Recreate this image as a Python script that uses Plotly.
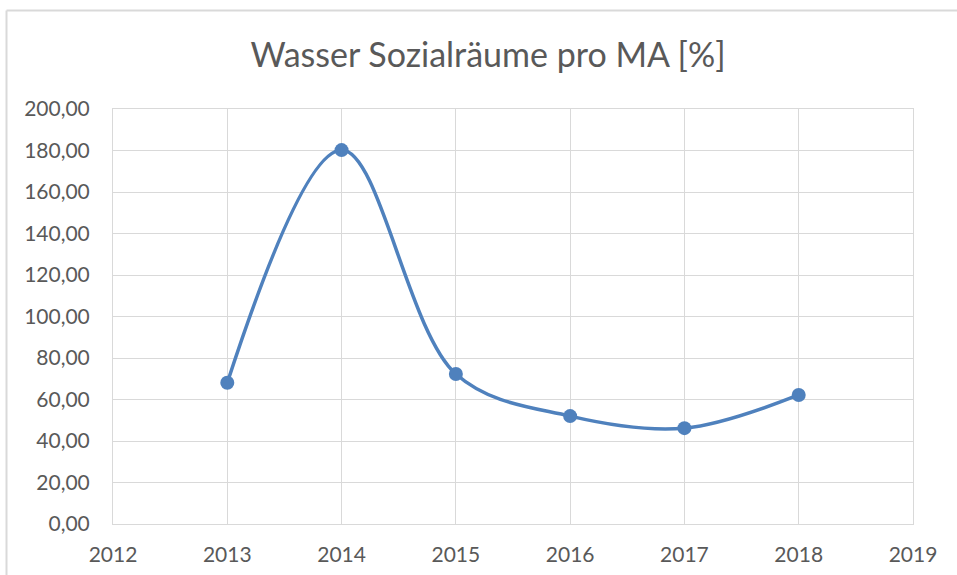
import plotly.graph_objects as go

years = [2013, 2014, 2015, 2016, 2017, 2018]
values = [68.1, 180.2, 72.3, 52.0, 46.2, 62.2]
title_text = "Wasser Sozialräume pro MA [%]"

text_color = "#595959"
grid_color = "#d9d9d9"
line_color = "#4f81bd"
font_family = "Lato, 'Open Sans', sans-serif"

fig = go.Figure()
fig.add_trace(go.Scatter(
    x=years, y=values, mode="lines+markers",
    line=dict(color=line_color, width=3.5, shape="spline", smoothing=1.0),
    marker=dict(color=line_color, size=14),
    showlegend=False, hoverinfo="skip",
))

W, H = 957, 575
L, T = 113, 109
pw, ph = 800, 415
R, B = W - L - pw, H - T - ph
bx = (6.5 - L) / pw
by = 1 + (T - 10.5) / ph

fig.update_layout(
    width=W, height=H,
    margin=dict(l=L, r=R, t=T, b=B),
    paper_bgcolor="white", plot_bgcolor="white",
    separators=",.",
    font=dict(family=font_family, color=text_color, size=21),
    title=dict(text=title_text, x=488 / W, xanchor="center",
               y=1 - 55 / H, yanchor="middle",
               font=dict(size=34, color=text_color, family=font_family)),
    xaxis=dict(range=[2012, 2019], dtick=1, tickformat="d",
               showgrid=True, gridcolor=grid_color, gridwidth=1,
               showline=True, linecolor=grid_color, linewidth=1, mirror=True,
               zeroline=False, ticks="", ticklabelstandoff=12, automargin=False,
               tickfont=dict(size=21, color=text_color)),
    yaxis=dict(range=[0, 200], dtick=20, tickformat=".2f",
               showgrid=True, gridcolor=grid_color, gridwidth=1,
               showline=True, linecolor=grid_color, linewidth=1, mirror=True,
               zeroline=False, ticks="", ticklabelstandoff=18, automargin=False,
               tickfont=dict(size=21, color=text_color)),
    shapes=[
        dict(type="line", xref="paper", yref="paper", x0=bx, x1=bx, y0=-0.3, y1=by,
             line=dict(color=grid_color, width=2)),
        dict(type="line", xref="paper", yref="paper", x0=bx, x1=1.2, y0=by, y1=by,
             line=dict(color=grid_color, width=2)),
    ],
)

fig.write_html(
    "out.html",
    config={"displayModeBar": False},
    post_script="document.body.style.margin='0';document.body.style.overflow='hidden';",
)
